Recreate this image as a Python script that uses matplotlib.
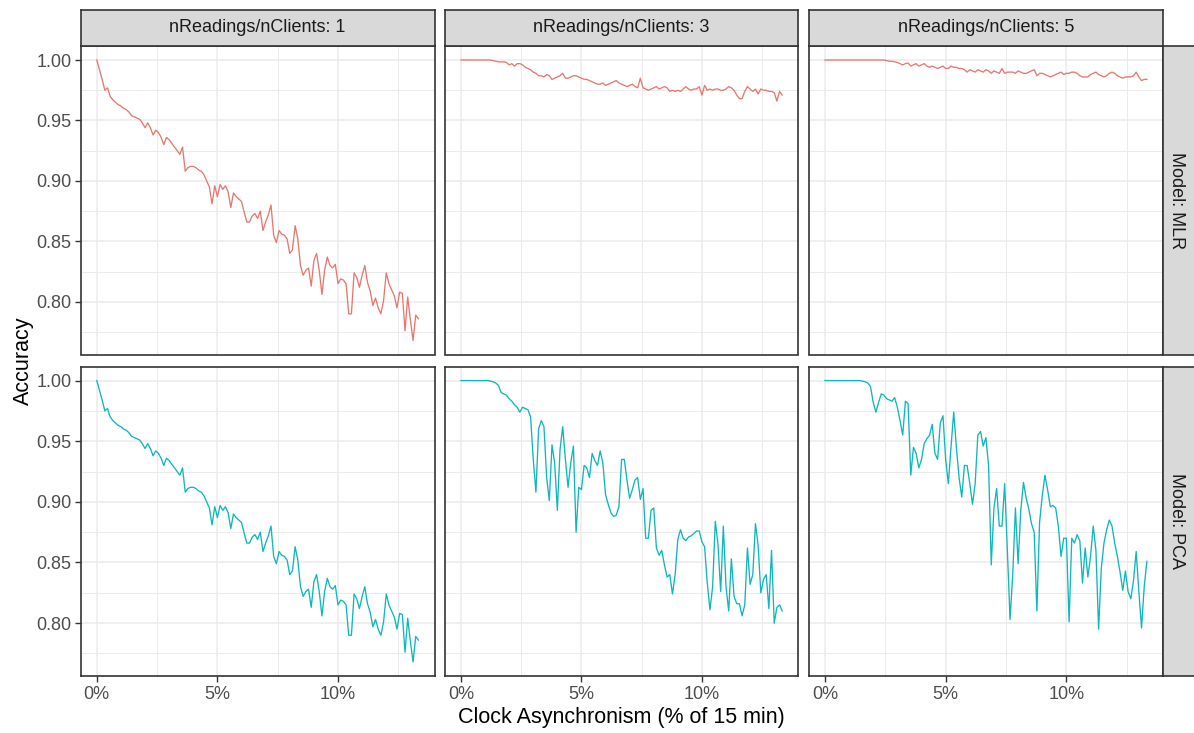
#!/usr/bin/env python3
"""Accuracy vs clock asynchronism, faceted by model (rows) and nReadings/nClients (cols)."""
import numpy as np
import matplotlib
matplotlib.use("Agg")
import matplotlib.pyplot as plt
from matplotlib.ticker import MultipleLocator, PercentFormatter, FormatStrFormatter

plt.rcParams["font.family"] = ["Liberation Sans", "DejaVu Sans"]

# clock offset sampled every second over the first two minutes, as a share of 15 min
offset_s = np.arange(0, 121)
asynchronism = offset_s / 900

READINGS = [1, 3, 5]
MODELS = ["MLR", "PCA"]
COLORS = {"MLR": "#E9776E", "PCA": "#0CB8BC"}

acc_mlr_1 = [
    1.000, 0.992, 0.984, 0.975, 0.977, 0.970, 0.967, 0.965, 0.963, 0.962,
    0.960, 0.959, 0.957, 0.954, 0.953, 0.952, 0.951, 0.948, 0.944, 0.948,
    0.944, 0.938, 0.942, 0.940, 0.936, 0.930, 0.936, 0.934, 0.931, 0.928,
    0.925, 0.922, 0.928, 0.908, 0.911, 0.912, 0.912, 0.911, 0.909, 0.908,
    0.905, 0.900, 0.895, 0.881, 0.896, 0.887, 0.897, 0.893, 0.896, 0.891,
    0.878, 0.890, 0.887, 0.885, 0.883, 0.874, 0.866, 0.866, 0.871, 0.873,
    0.869, 0.875, 0.859, 0.866, 0.872, 0.880, 0.855, 0.849, 0.859, 0.856,
    0.855, 0.852, 0.840, 0.843, 0.863, 0.852, 0.830, 0.822, 0.826, 0.828,
    0.813, 0.834, 0.840, 0.826, 0.806, 0.826, 0.837, 0.830, 0.828, 0.831,
    0.815, 0.819, 0.818, 0.815, 0.790, 0.790, 0.824, 0.820, 0.812, 0.822,
    0.830, 0.816, 0.809, 0.797, 0.803, 0.795, 0.790, 0.801, 0.824, 0.815,
    0.810, 0.805, 0.795, 0.808, 0.807, 0.776, 0.804, 0.785, 0.768, 0.789,
    0.786,
]
acc_mlr_3 = [
    1.000, 1.000, 1.000, 1.000, 1.000, 1.000, 1.000, 1.000, 1.000, 1.000,
    1.000, 1.000, 0.9995, 0.999, 0.9985, 0.9985, 0.9985, 0.998, 0.996, 0.997,
    0.995, 0.997, 0.997, 0.996, 0.994, 0.993, 0.992, 0.990, 0.989, 0.987,
    0.987, 0.986, 0.988, 0.987, 0.984, 0.985, 0.986, 0.987, 0.989, 0.985,
    0.985, 0.986, 0.987, 0.987, 0.986, 0.985, 0.984, 0.984, 0.983, 0.982,
    0.981, 0.980, 0.980, 0.981, 0.979, 0.980, 0.981, 0.982, 0.983, 0.981,
    0.980, 0.979, 0.978, 0.979, 0.980, 0.978, 0.977, 0.985, 0.977, 0.976,
    0.975, 0.976, 0.977, 0.978, 0.976, 0.977, 0.978, 0.977, 0.974, 0.975,
    0.974, 0.975, 0.974, 0.976, 0.978, 0.976, 0.975, 0.976, 0.976, 0.978,
    0.971, 0.979, 0.975, 0.976, 0.975, 0.976, 0.976, 0.975, 0.975, 0.976,
    0.978, 0.977, 0.975, 0.971, 0.968, 0.968, 0.974, 0.978, 0.976, 0.974,
    0.976, 0.972, 0.976, 0.975, 0.975, 0.974, 0.974, 0.973, 0.966, 0.974,
    0.971,
]
acc_mlr_5 = [
    1.000, 1.000, 1.000, 1.000, 1.000, 1.000, 1.000, 1.000, 1.000, 1.000,
    1.000, 1.000, 1.000, 1.000, 1.000, 1.000, 1.000, 1.000, 1.000, 1.000,
    1.000, 1.000, 1.000, 0.9995, 0.999, 0.999, 0.9985, 0.998, 0.997, 0.996,
    0.997, 0.9975, 0.995, 0.996, 0.997, 0.995, 0.996, 0.997, 0.995, 0.994,
    0.995, 0.994, 0.993, 0.994, 0.995, 0.993, 0.993, 0.995, 0.994, 0.994,
    0.993, 0.993, 0.992, 0.990, 0.992, 0.991, 0.990, 0.992, 0.991, 0.990,
    0.992, 0.991, 0.989, 0.991, 0.990, 0.989, 0.993, 0.989, 0.990, 0.990,
    0.990, 0.989, 0.991, 0.990, 0.989, 0.989, 0.990, 0.991, 0.992, 0.987,
    0.989, 0.989, 0.988, 0.987, 0.986, 0.987, 0.988, 0.989, 0.990, 0.988,
    0.989, 0.989, 0.990, 0.990, 0.989, 0.987, 0.986, 0.986, 0.986, 0.988,
    0.989, 0.990, 0.988, 0.987, 0.986, 0.987, 0.989, 0.990, 0.989, 0.987,
    0.986, 0.985, 0.986, 0.986, 0.986, 0.987, 0.990, 0.986, 0.983, 0.984,
    0.984,
]
# with a single reading per client PCA reduces to the same estimate as MLR
acc_pca_1 = list(acc_mlr_1)
acc_pca_3 = [
    1.000, 1.000, 1.000, 1.000, 1.000, 1.000, 1.000, 1.000, 1.000, 1.000,
    1.000, 0.9995, 0.999, 0.998, 0.996, 0.990, 0.989, 0.988, 0.985, 0.983,
    0.980, 0.978, 0.974, 0.978, 0.977, 0.976, 0.970, 0.935, 0.908, 0.960,
    0.967, 0.962, 0.920, 0.901, 0.947, 0.932, 0.893, 0.943, 0.962, 0.935,
    0.912, 0.932, 0.946, 0.875, 0.912, 0.910, 0.930, 0.928, 0.920, 0.940,
    0.934, 0.930, 0.942, 0.932, 0.906, 0.898, 0.891, 0.888, 0.889, 0.896,
    0.935, 0.935, 0.918, 0.903, 0.910, 0.918, 0.920, 0.902, 0.911, 0.870,
    0.870, 0.893, 0.895, 0.862, 0.856, 0.860, 0.848, 0.838, 0.840, 0.824,
    0.840, 0.869, 0.877, 0.870, 0.868, 0.871, 0.872, 0.874, 0.876, 0.876,
    0.867, 0.863, 0.833, 0.811, 0.830, 0.884, 0.865, 0.826, 0.880, 0.830,
    0.810, 0.853, 0.822, 0.816, 0.816, 0.806, 0.815, 0.862, 0.832, 0.840,
    0.882, 0.864, 0.825, 0.836, 0.840, 0.812, 0.860, 0.800, 0.813, 0.815,
    0.810,
]
acc_pca_5 = [
    1.000, 1.000, 1.000, 1.000, 1.000, 1.000, 1.000, 1.000, 1.000, 1.000,
    1.000, 1.000, 1.000, 1.000, 0.9995, 0.999, 0.998, 0.995, 0.982, 0.974,
    0.982, 0.989, 0.988, 0.985, 0.984, 0.983, 0.986, 0.978, 0.967, 0.955,
    0.983, 0.981, 0.922, 0.945, 0.940, 0.928, 0.935, 0.948, 0.952, 0.955,
    0.964, 0.940, 0.935, 0.965, 0.971, 0.935, 0.915, 0.945, 0.974, 0.945,
    0.920, 0.904, 0.930, 0.930, 0.915, 0.898, 0.915, 0.955, 0.958, 0.946,
    0.953, 0.930, 0.848, 0.895, 0.911, 0.880, 0.880, 0.915, 0.860, 0.803,
    0.840, 0.895, 0.849, 0.893, 0.916, 0.903, 0.894, 0.882, 0.875, 0.810,
    0.883, 0.905, 0.922, 0.910, 0.896, 0.897, 0.895, 0.880, 0.855, 0.870,
    0.870, 0.801, 0.870, 0.866, 0.873, 0.868, 0.833, 0.862, 0.838, 0.855,
    0.880, 0.860, 0.795, 0.845, 0.866, 0.877, 0.885, 0.880, 0.866, 0.855,
    0.842, 0.827, 0.843, 0.826, 0.820, 0.835, 0.859, 0.826, 0.796, 0.830,
    0.851,
]

SERIES = {
    ("MLR", 1): acc_mlr_1, ("MLR", 3): acc_mlr_3, ("MLR", 5): acc_mlr_5,
    ("PCA", 1): acc_pca_1, ("PCA", 3): acc_pca_3, ("PCA", 5): acc_pca_5,
}

W, H = 1194, 733
COL_X = [(80.7, 434.5), (444.9, 798.3), (808.8, 1163.0)]
ROW_Y = [(46.0, 354.5), (366.5, 676.0)]
STRIP_TOP = (9.5, 46.0)
STRIP_RIGHT = (1163.0, 1196.0)
BORDER = "#333333"
GRID = "#EBEBEB"


def box(x0, y0, x1, y1):
    return [x0 / W, 1 - y1 / H, (x1 - x0) / W, (y1 - y0) / H]


def expand(lo, hi, f=0.05):
    pad = (hi - lo) * f
    return lo - pad, hi + pad


def strip(rect, label, rotation):
    sx = fig.add_axes(rect)
    sx.set_facecolor("#D9D9D9")
    sx.set_xticks([])
    sx.set_yticks([])
    for s in sx.spines.values():
        s.set_color(BORDER)
        s.set_linewidth(1.2)
    xpos = 0.5 if rotation == 0 else 0.42
    sx.text(xpos, 0.5, label, ha="center", va="center", rotation=rotation,
            fontsize=13, color="#1A1A1A", transform=sx.transAxes)


allvals = np.concatenate([np.asarray(v) for v in SERIES.values()])
YLIM = expand(allvals.min(), allvals.max())
XLIM = expand(asynchronism.min(), asynchronism.max())

fig = plt.figure(figsize=(W / 100, H / 100), dpi=100)

for r, model in enumerate(MODELS):
    for c, nread in enumerate(READINGS):
        (x0, x1), (y0, y1) = COL_X[c], ROW_Y[r]
        ax = fig.add_axes(box(x0, y0, x1, y1))
        ax.plot(asynchronism, SERIES[(model, nread)], color=COLORS[model], lw=0.95)
        ax.set_xlim(*XLIM)
        ax.set_ylim(*YLIM)
        ax.xaxis.set_major_locator(MultipleLocator(0.05))
        ax.xaxis.set_minor_locator(MultipleLocator(0.025))
        ax.yaxis.set_major_locator(MultipleLocator(0.05))
        ax.yaxis.set_minor_locator(MultipleLocator(0.025))
        ax.xaxis.set_major_formatter(PercentFormatter(xmax=1, decimals=0))
        ax.yaxis.set_major_formatter(FormatStrFormatter("%.2f"))
        ax.grid(which="major", color=GRID, lw=1.1)
        ax.grid(which="minor", color=GRID, lw=0.7)
        ax.set_axisbelow(True)
        for s in ax.spines.values():
            s.set_color(BORDER)
            s.set_linewidth(1.2)
        ax.tick_params(which="minor", length=0)
        ax.tick_params(which="major", length=4, width=1.0, color=BORDER,
                       labelsize=13, labelcolor="#4D4D4D", pad=2.5)
        ax.tick_params(axis="x", bottom=(r == 1), labelbottom=(r == 1), pad=3.5)
        ax.tick_params(axis="y", left=(c == 0), labelleft=(c == 0))

        if r == 0:
            strip(box(x0, STRIP_TOP[0], x1, STRIP_TOP[1]),
                  f"nReadings/nClients: {nread}", 0)
        if c == 2:
            strip(box(STRIP_RIGHT[0], y0, STRIP_RIGHT[1], y1), f"Model: {model}", -90)

fig.text(23 / W, 1 - 361 / H, "Accuracy", rotation=90, ha="center", va="center",
         fontsize=15.5, color="black")
fig.text(621 / W, 1 - 718 / H, "Clock Asynchronism (% of 15 min)", ha="center",
         va="center", fontsize=15.5, color="black")

fig.savefig("out.png", dpi=100)
